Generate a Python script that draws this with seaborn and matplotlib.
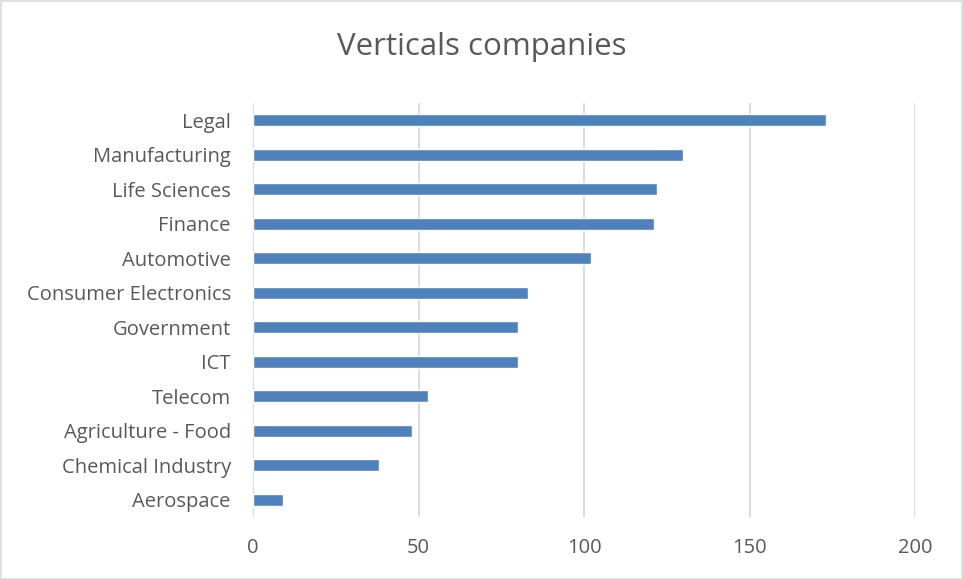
import matplotlib
matplotlib.use("Agg")
import matplotlib.pyplot as plt
from matplotlib.patches import Rectangle
import seaborn as sns
import pandas as pd

categories = ["Legal", "Manufacturing", "Life Sciences", "Finance", "Automotive",
              "Consumer Electronics", "Government", "ICT", "Telecom",
              "Agriculture - Food", "Chemical Industry", "Aerospace"]
counts = [173, 130, 122, 121, 102, 83, 80, 80, 53, 48, 38, 9]
x_ticks = [0, 50, 100, 150, 200]

df = pd.DataFrame({"vertical": categories, "companies": counts})

sns.set_theme(style="white")
plt.rcParams["font.family"] = ["Open Sans", "DejaVu Sans"]

fig = plt.figure(figsize=(9.63, 5.79), dpi=100)
ax = fig.add_axes([253 / 963, 1 - 517 / 579, (915 - 253) / 963, (517 - 103) / 579])

sns.barplot(data=df, x="companies", y="vertical", order=categories,
            color="#4F81BD", saturation=1, width=0.35, ax=ax, zorder=3)

ax.set_xlim(0, 200)
ax.set_ylim(len(categories) - 0.5, -0.5)
ax.set_xticks(x_ticks)
ax.set_xticklabels([str(t) for t in x_ticks])
ax.grid(axis="x", color="#D9D9D9", linewidth=1.3, zorder=0)
ax.grid(axis="y", visible=False)
for s in ax.spines.values():
    s.set_visible(False)
ax.set_xlabel("")
ax.set_ylabel("")
ax.tick_params(axis="both", length=0, labelsize=14.5, colors="#595959")
ax.tick_params(axis="x", pad=15)
ax.tick_params(axis="y", pad=16)

fig.text(0.5, 1 - 47 / 579, "Verticals companies", ha="center", va="center",
         fontsize=22.5, color="#595959")

fig.patches.append(Rectangle((0.5 / 963, 0.5 / 579), 1 - 1.5 / 963, 1 - 1.5 / 579,
                             transform=fig.transFigure, fill=False,
                             edgecolor="#D9D9D9", linewidth=1.2))

fig.savefig("out.png", dpi=100)
